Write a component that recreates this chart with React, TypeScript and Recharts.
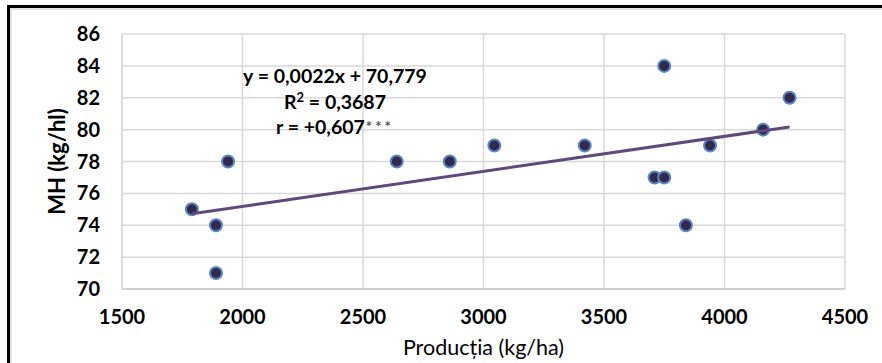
import {
  CartesianGrid,
  Label,
  Scatter,
  ScatterChart,
  XAxis,
  YAxis,
} from 'recharts'

// Production (kg/ha) vs hectolitre mass (kg/hl)
const productia = [1790, 1890, 1890, 1940, 2640, 2860, 3045, 3420, 3710, 3750, 3750, 3840, 3940, 4160, 4270]
const mh = [75, 74, 71, 78, 78, 78, 79, 79, 77, 77, 84, 74, 79, 80, 82]

// Excel linear trendline endpoints (y = 0,0022x + 70,779)
const trendX = [1790, 4270]
const trendY = [74.72, 80.17]

const xTicks = [1500, 2000, 2500, 3000, 3500, 4000, 4500]
const yTicks = [70, 72, 74, 76, 78, 80, 82, 84, 86]

const points = productia.map((x, i) => ({ x, y: mh[i] }))
const trend = trendX.map((x, i) => ({ x, y: trendY[i] }))

const FONT = 'Lato, "Open Sans", sans-serif'
const GRID = '#d9d9d9'

function Dot(props: any) {
  return <circle cx={props.cx} cy={props.cy} r={6} fill="#35284d" stroke="#5689c4" strokeWidth={2} />
}

function YTitle(props: any) {
  const vb = props.viewBox
  const cx = vb.x + 56
  const cy = vb.y + vb.height / 2
  return (
    <text
      x={cx}
      y={cy}
      transform={`rotate(-90, ${cx}, ${cy})`}
      textAnchor="middle"
      dominantBaseline="central"
      fontFamily={FONT}
      fontWeight="bold"
      fontSize={22}
      fill="#000"
    >
      MH (kg/hl)
    </text>
  )
}

export default function App() {
  return (
    <div
      style={{
        position: 'absolute',
        left: 0,
        top: 0,
        width: 882,
        height: 363,
        overflow: 'hidden',
        background: '#fff',
        fontFamily: FONT,
      }}
    >
      <div
        style={{
          position: 'absolute',
          left: 7,
          top: 5,
          width: 900,
          height: 400,
          border: '3px solid #000',
        }}
      />
      <div
        style={{
          position: 'absolute',
          left: 10,
          top: 8,
          width: 900,
          height: 400,
          border: '2px solid #e3e3e3',
        }}
      />
      <div style={{ position: 'absolute', left: 0, top: 0 }}>
        <ScatterChart width={882} height={363} margin={{ top: 34, right: 37, bottom: 0, left: 0 }}>
          <CartesianGrid stroke={GRID} strokeWidth={1.5} horizontal vertical />
          <XAxis
            type="number"
            dataKey="x"
            domain={[1500, 4500]}
            ticks={xTicks}
            interval={0}
            height={74}
            tickSize={0}
            tickMargin={21}
            axisLine={{ stroke: '#c8c8c8', strokeWidth: 1.5 }}
            tick={{ fontSize: 20, fontWeight: 'bold', fill: '#000', fontFamily: FONT }}
          >
            <Label
              value="Producția (kg/ha)"
              position="insideBottom"
              offset={8}
              style={{ fontSize: 21.5, fill: '#000', fontFamily: FONT }}
            />
          </XAxis>
          <YAxis
            type="number"
            dataKey="y"
            domain={[70, 86]}
            ticks={yTicks}
            interval={0}
            width={122}
            tickSize={0}
            tickMargin={22}
            axisLine={{ stroke: GRID, strokeWidth: 1.5 }}
            tick={{ fontSize: 20, fontWeight: 'bold', fill: '#000', fontFamily: FONT }}
          >
            <Label content={<YTitle />} />
          </YAxis>
          <Scatter data={points} shape={<Dot />} isAnimationActive={false} />
          <Scatter
            data={trend}
            line={{ stroke: '#5f497a', strokeWidth: 3 }}
            shape={() => null}
            isAnimationActive={false}
          />
        </ScatterChart>
      </div>
      <div
        style={{
          position: 'absolute',
          left: 215,
          top: 63,
          width: 240,
          textAlign: 'center',
          fontWeight: 'bold',
          fontSize: 19.5,
          lineHeight: '25.5px',
          color: '#000',
        }}
      >
        <div>y = 0,0022x + 70,779</div>
        <div>
          R<sup style={{ fontSize: 13, lineHeight: 0 }}>2</sup> = 0,3687
        </div>
        <div>
          r = +0,607
          <span style={{ fontSize: 15, color: '#555', letterSpacing: 3, verticalAlign: 'top', marginLeft: 1 }}>***</span>
        </div>
      </div>
    </div>
  )
}
